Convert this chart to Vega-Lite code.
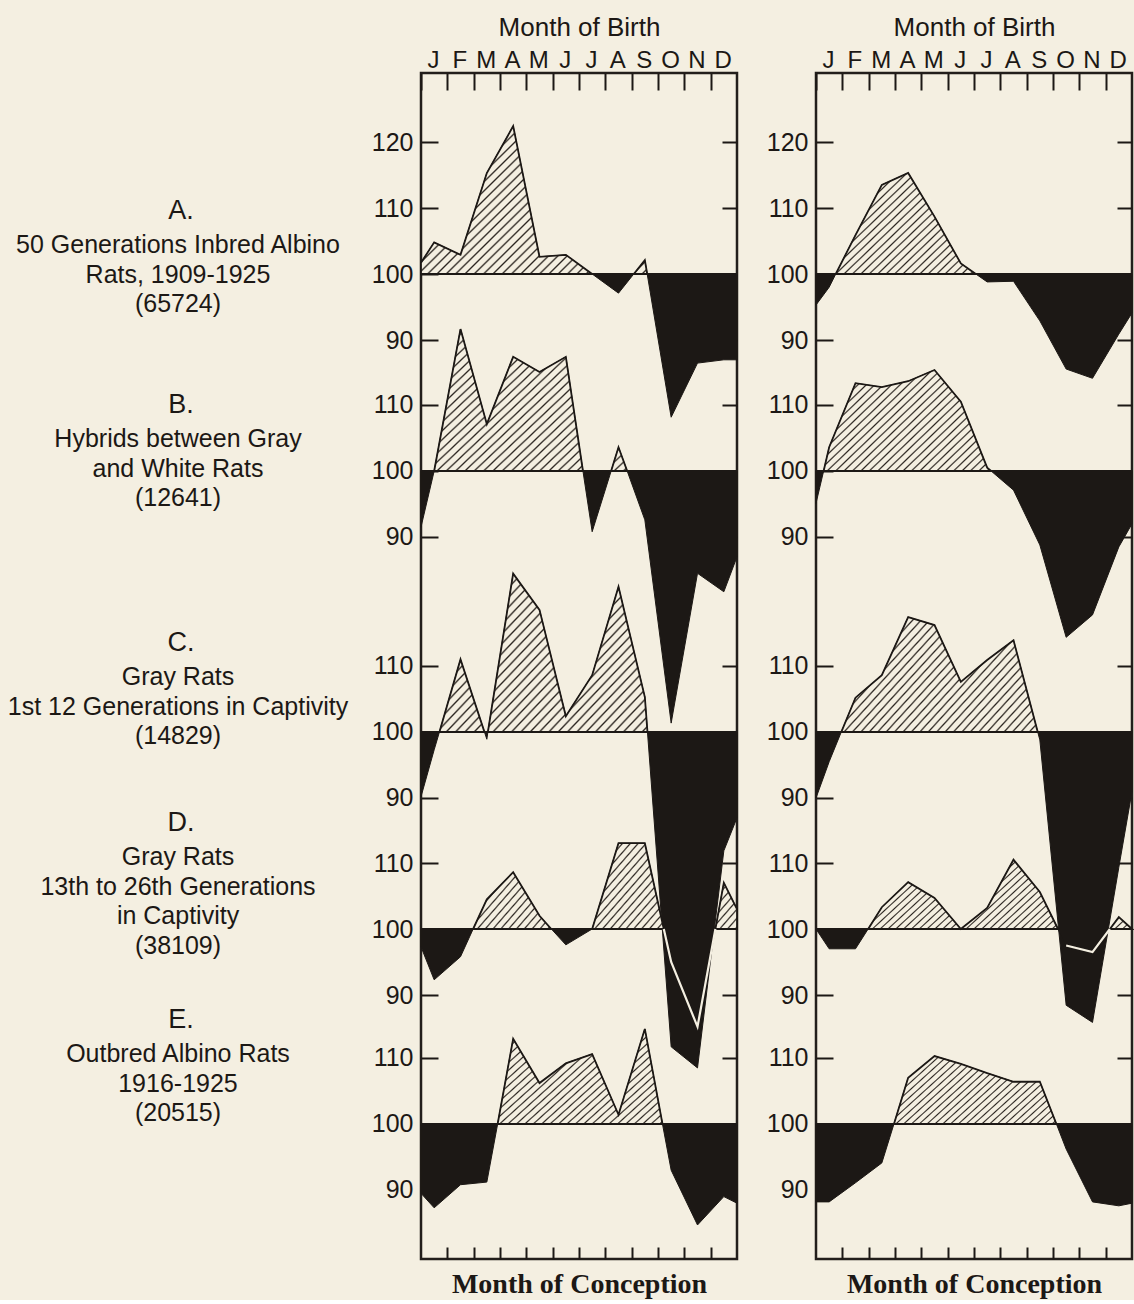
{
"$schema":"https://vega.github.io/schema/vega-lite/v6.json",
"background":"#f4efe1",
"padding":{"left":0,"top":12,"right":0,"bottom":0},
"bounds":"flush",
"spacing":79,
"config":{
 "view":{"stroke":"#221e1b","strokeWidth":2.5},
 "axis":{"labelFont":"Liberation Sans","titleFont":"Liberation Sans","labelColor":"#1c1815","tickColor":"#1c1815","titleColor":"#1c1815","domain":false,"grid":false,"tickWidth":2},
 "style":{
  "hatchS":{"color":{"gradient":"linear","x1":0,"y1":0,"x2":1.171,"y2":0.278,"stops":[{"offset":0.012,"color":"#f4efe1"},{"offset":0.016,"color":"#2a241f"},{"offset":0.02,"color":"#f4efe1"},{"offset":0.032,"color":"#f4efe1"},{"offset":0.036,"color":"#2a241f"},{"offset":0.04,"color":"#f4efe1"},{"offset":0.052,"color":"#f4efe1"},{"offset":0.056,"color":"#2a241f"},{"offset":0.06,"color":"#f4efe1"},{"offset":0.072,"color":"#f4efe1"},{"offset":0.076,"color":"#2a241f"},{"offset":0.08,"color":"#f4efe1"},{"offset":0.092,"color":"#f4efe1"},{"offset":0.096,"color":"#2a241f"},{"offset":0.1,"color":"#f4efe1"},{"offset":0.112,"color":"#f4efe1"},{"offset":0.116,"color":"#2a241f"},{"offset":0.12,"color":"#f4efe1"},{"offset":0.132,"color":"#f4efe1"},{"offset":0.136,"color":"#2a241f"},{"offset":0.14,"color":"#f4efe1"},{"offset":0.152,"color":"#f4efe1"},{"offset":0.156,"color":"#2a241f"},{"offset":0.16,"color":"#f4efe1"},{"offset":0.172,"color":"#f4efe1"},{"offset":0.176,"color":"#2a241f"},{"offset":0.18,"color":"#f4efe1"},{"offset":0.192,"color":"#f4efe1"},{"offset":0.196,"color":"#2a241f"},{"offset":0.2,"color":"#f4efe1"},{"offset":0.212,"color":"#f4efe1"},{"offset":0.216,"color":"#2a241f"},{"offset":0.22,"color":"#f4efe1"},{"offset":0.232,"color":"#f4efe1"},{"offset":0.236,"color":"#2a241f"},{"offset":0.24,"color":"#f4efe1"},{"offset":0.252,"color":"#f4efe1"},{"offset":0.256,"color":"#2a241f"},{"offset":0.26,"color":"#f4efe1"},{"offset":0.272,"color":"#f4efe1"},{"offset":0.276,"color":"#2a241f"},{"offset":0.28,"color":"#f4efe1"},{"offset":0.292,"color":"#f4efe1"},{"offset":0.296,"color":"#2a241f"},{"offset":0.3,"color":"#f4efe1"},{"offset":0.312,"color":"#f4efe1"},{"offset":0.316,"color":"#2a241f"},{"offset":0.32,"color":"#f4efe1"},{"offset":0.332,"color":"#f4efe1"},{"offset":0.336,"color":"#2a241f"},{"offset":0.34,"color":"#f4efe1"},{"offset":0.352,"color":"#f4efe1"},{"offset":0.356,"color":"#2a241f"},{"offset":0.36,"color":"#f4efe1"},{"offset":0.372,"color":"#f4efe1"},{"offset":0.376,"color":"#2a241f"},{"offset":0.38,"color":"#f4efe1"},{"offset":0.392,"color":"#f4efe1"},{"offset":0.396,"color":"#2a241f"},{"offset":0.4,"color":"#f4efe1"},{"offset":0.412,"color":"#f4efe1"},{"offset":0.416,"color":"#2a241f"},{"offset":0.42,"color":"#f4efe1"},{"offset":0.432,"color":"#f4efe1"},{"offset":0.436,"color":"#2a241f"},{"offset":0.44,"color":"#f4efe1"},{"offset":0.452,"color":"#f4efe1"},{"offset":0.456,"color":"#2a241f"},{"offset":0.46,"color":"#f4efe1"},{"offset":0.472,"color":"#f4efe1"},{"offset":0.476,"color":"#2a241f"},{"offset":0.48,"color":"#f4efe1"},{"offset":0.492,"color":"#f4efe1"},{"offset":0.496,"color":"#2a241f"},{"offset":0.5,"color":"#f4efe1"},{"offset":0.512,"color":"#f4efe1"},{"offset":0.516,"color":"#2a241f"},{"offset":0.52,"color":"#f4efe1"},{"offset":0.532,"color":"#f4efe1"},{"offset":0.536,"color":"#2a241f"},{"offset":0.54,"color":"#f4efe1"},{"offset":0.552,"color":"#f4efe1"},{"offset":0.556,"color":"#2a241f"},{"offset":0.56,"color":"#f4efe1"},{"offset":0.572,"color":"#f4efe1"},{"offset":0.576,"color":"#2a241f"},{"offset":0.58,"color":"#f4efe1"},{"offset":0.592,"color":"#f4efe1"},{"offset":0.596,"color":"#2a241f"},{"offset":0.6,"color":"#f4efe1"},{"offset":0.612,"color":"#f4efe1"},{"offset":0.616,"color":"#2a241f"},{"offset":0.62,"color":"#f4efe1"},{"offset":0.632,"color":"#f4efe1"},{"offset":0.636,"color":"#2a241f"},{"offset":0.64,"color":"#f4efe1"},{"offset":0.652,"color":"#f4efe1"},{"offset":0.656,"color":"#2a241f"},{"offset":0.66,"color":"#f4efe1"},{"offset":0.672,"color":"#f4efe1"},{"offset":0.676,"color":"#2a241f"},{"offset":0.68,"color":"#f4efe1"},{"offset":0.692,"color":"#f4efe1"},{"offset":0.696,"color":"#2a241f"},{"offset":0.7,"color":"#f4efe1"},{"offset":0.712,"color":"#f4efe1"},{"offset":0.716,"color":"#2a241f"},{"offset":0.72,"color":"#f4efe1"},{"offset":0.732,"color":"#f4efe1"},{"offset":0.736,"color":"#2a241f"},{"offset":0.74,"color":"#f4efe1"},{"offset":0.752,"color":"#f4efe1"},{"offset":0.756,"color":"#2a241f"},{"offset":0.76,"color":"#f4efe1"},{"offset":0.772,"color":"#f4efe1"},{"offset":0.776,"color":"#2a241f"},{"offset":0.78,"color":"#f4efe1"},{"offset":0.792,"color":"#f4efe1"},{"offset":0.796,"color":"#2a241f"},{"offset":0.8,"color":"#f4efe1"},{"offset":0.812,"color":"#f4efe1"},{"offset":0.816,"color":"#2a241f"},{"offset":0.82,"color":"#f4efe1"},{"offset":0.832,"color":"#f4efe1"},{"offset":0.836,"color":"#2a241f"},{"offset":0.84,"color":"#f4efe1"},{"offset":0.852,"color":"#f4efe1"},{"offset":0.856,"color":"#2a241f"},{"offset":0.86,"color":"#f4efe1"},{"offset":0.872,"color":"#f4efe1"},{"offset":0.876,"color":"#2a241f"},{"offset":0.88,"color":"#f4efe1"},{"offset":0.892,"color":"#f4efe1"},{"offset":0.896,"color":"#2a241f"},{"offset":0.9,"color":"#f4efe1"},{"offset":0.912,"color":"#f4efe1"},{"offset":0.916,"color":"#2a241f"},{"offset":0.92,"color":"#f4efe1"},{"offset":0.932,"color":"#f4efe1"},{"offset":0.936,"color":"#2a241f"},{"offset":0.94,"color":"#f4efe1"},{"offset":0.952,"color":"#f4efe1"},{"offset":0.956,"color":"#2a241f"},{"offset":0.96,"color":"#f4efe1"},{"offset":0.972,"color":"#f4efe1"},{"offset":0.976,"color":"#2a241f"},{"offset":0.98,"color":"#f4efe1"},{"offset":0.992,"color":"#f4efe1"},{"offset":0.996,"color":"#2a241f"},{"offset":1,"color":"#f4efe1"}]}},
  "hatchM":{"color":{"gradient":"linear","x1":0,"y1":0,"x2":1.2,"y2":0.399,"stops":[{"offset":0.012,"color":"#f4efe1"},{"offset":0.016,"color":"#2a241f"},{"offset":0.02,"color":"#f4efe1"},{"offset":0.032,"color":"#f4efe1"},{"offset":0.036,"color":"#2a241f"},{"offset":0.04,"color":"#f4efe1"},{"offset":0.052,"color":"#f4efe1"},{"offset":0.056,"color":"#2a241f"},{"offset":0.06,"color":"#f4efe1"},{"offset":0.072,"color":"#f4efe1"},{"offset":0.076,"color":"#2a241f"},{"offset":0.08,"color":"#f4efe1"},{"offset":0.092,"color":"#f4efe1"},{"offset":0.096,"color":"#2a241f"},{"offset":0.1,"color":"#f4efe1"},{"offset":0.112,"color":"#f4efe1"},{"offset":0.116,"color":"#2a241f"},{"offset":0.12,"color":"#f4efe1"},{"offset":0.132,"color":"#f4efe1"},{"offset":0.136,"color":"#2a241f"},{"offset":0.14,"color":"#f4efe1"},{"offset":0.152,"color":"#f4efe1"},{"offset":0.156,"color":"#2a241f"},{"offset":0.16,"color":"#f4efe1"},{"offset":0.172,"color":"#f4efe1"},{"offset":0.176,"color":"#2a241f"},{"offset":0.18,"color":"#f4efe1"},{"offset":0.192,"color":"#f4efe1"},{"offset":0.196,"color":"#2a241f"},{"offset":0.2,"color":"#f4efe1"},{"offset":0.212,"color":"#f4efe1"},{"offset":0.216,"color":"#2a241f"},{"offset":0.22,"color":"#f4efe1"},{"offset":0.232,"color":"#f4efe1"},{"offset":0.236,"color":"#2a241f"},{"offset":0.24,"color":"#f4efe1"},{"offset":0.252,"color":"#f4efe1"},{"offset":0.256,"color":"#2a241f"},{"offset":0.26,"color":"#f4efe1"},{"offset":0.272,"color":"#f4efe1"},{"offset":0.276,"color":"#2a241f"},{"offset":0.28,"color":"#f4efe1"},{"offset":0.292,"color":"#f4efe1"},{"offset":0.296,"color":"#2a241f"},{"offset":0.3,"color":"#f4efe1"},{"offset":0.312,"color":"#f4efe1"},{"offset":0.316,"color":"#2a241f"},{"offset":0.32,"color":"#f4efe1"},{"offset":0.332,"color":"#f4efe1"},{"offset":0.336,"color":"#2a241f"},{"offset":0.34,"color":"#f4efe1"},{"offset":0.352,"color":"#f4efe1"},{"offset":0.356,"color":"#2a241f"},{"offset":0.36,"color":"#f4efe1"},{"offset":0.372,"color":"#f4efe1"},{"offset":0.376,"color":"#2a241f"},{"offset":0.38,"color":"#f4efe1"},{"offset":0.392,"color":"#f4efe1"},{"offset":0.396,"color":"#2a241f"},{"offset":0.4,"color":"#f4efe1"},{"offset":0.412,"color":"#f4efe1"},{"offset":0.416,"color":"#2a241f"},{"offset":0.42,"color":"#f4efe1"},{"offset":0.432,"color":"#f4efe1"},{"offset":0.436,"color":"#2a241f"},{"offset":0.44,"color":"#f4efe1"},{"offset":0.452,"color":"#f4efe1"},{"offset":0.456,"color":"#2a241f"},{"offset":0.46,"color":"#f4efe1"},{"offset":0.472,"color":"#f4efe1"},{"offset":0.476,"color":"#2a241f"},{"offset":0.48,"color":"#f4efe1"},{"offset":0.492,"color":"#f4efe1"},{"offset":0.496,"color":"#2a241f"},{"offset":0.5,"color":"#f4efe1"},{"offset":0.512,"color":"#f4efe1"},{"offset":0.516,"color":"#2a241f"},{"offset":0.52,"color":"#f4efe1"},{"offset":0.532,"color":"#f4efe1"},{"offset":0.536,"color":"#2a241f"},{"offset":0.54,"color":"#f4efe1"},{"offset":0.552,"color":"#f4efe1"},{"offset":0.556,"color":"#2a241f"},{"offset":0.56,"color":"#f4efe1"},{"offset":0.572,"color":"#f4efe1"},{"offset":0.576,"color":"#2a241f"},{"offset":0.58,"color":"#f4efe1"},{"offset":0.592,"color":"#f4efe1"},{"offset":0.596,"color":"#2a241f"},{"offset":0.6,"color":"#f4efe1"},{"offset":0.612,"color":"#f4efe1"},{"offset":0.616,"color":"#2a241f"},{"offset":0.62,"color":"#f4efe1"},{"offset":0.632,"color":"#f4efe1"},{"offset":0.636,"color":"#2a241f"},{"offset":0.64,"color":"#f4efe1"},{"offset":0.652,"color":"#f4efe1"},{"offset":0.656,"color":"#2a241f"},{"offset":0.66,"color":"#f4efe1"},{"offset":0.672,"color":"#f4efe1"},{"offset":0.676,"color":"#2a241f"},{"offset":0.68,"color":"#f4efe1"},{"offset":0.692,"color":"#f4efe1"},{"offset":0.696,"color":"#2a241f"},{"offset":0.7,"color":"#f4efe1"},{"offset":0.712,"color":"#f4efe1"},{"offset":0.716,"color":"#2a241f"},{"offset":0.72,"color":"#f4efe1"},{"offset":0.732,"color":"#f4efe1"},{"offset":0.736,"color":"#2a241f"},{"offset":0.74,"color":"#f4efe1"},{"offset":0.752,"color":"#f4efe1"},{"offset":0.756,"color":"#2a241f"},{"offset":0.76,"color":"#f4efe1"},{"offset":0.772,"color":"#f4efe1"},{"offset":0.776,"color":"#2a241f"},{"offset":0.78,"color":"#f4efe1"},{"offset":0.792,"color":"#f4efe1"},{"offset":0.796,"color":"#2a241f"},{"offset":0.8,"color":"#f4efe1"},{"offset":0.812,"color":"#f4efe1"},{"offset":0.816,"color":"#2a241f"},{"offset":0.82,"color":"#f4efe1"},{"offset":0.832,"color":"#f4efe1"},{"offset":0.836,"color":"#2a241f"},{"offset":0.84,"color":"#f4efe1"},{"offset":0.852,"color":"#f4efe1"},{"offset":0.856,"color":"#2a241f"},{"offset":0.86,"color":"#f4efe1"},{"offset":0.872,"color":"#f4efe1"},{"offset":0.876,"color":"#2a241f"},{"offset":0.88,"color":"#f4efe1"},{"offset":0.892,"color":"#f4efe1"},{"offset":0.896,"color":"#2a241f"},{"offset":0.9,"color":"#f4efe1"},{"offset":0.912,"color":"#f4efe1"},{"offset":0.916,"color":"#2a241f"},{"offset":0.92,"color":"#f4efe1"},{"offset":0.932,"color":"#f4efe1"},{"offset":0.936,"color":"#2a241f"},{"offset":0.94,"color":"#f4efe1"},{"offset":0.952,"color":"#f4efe1"},{"offset":0.956,"color":"#2a241f"},{"offset":0.96,"color":"#f4efe1"},{"offset":0.972,"color":"#f4efe1"},{"offset":0.976,"color":"#2a241f"},{"offset":0.98,"color":"#f4efe1"},{"offset":0.992,"color":"#f4efe1"},{"offset":0.996,"color":"#2a241f"},{"offset":1,"color":"#f4efe1"}]}},
  "hatchL":{"color":{"gradient":"linear","x1":0,"y1":0,"x2":1.204,"y2":0.572,"stops":[{"offset":0.012,"color":"#f4efe1"},{"offset":0.016,"color":"#2a241f"},{"offset":0.02,"color":"#f4efe1"},{"offset":0.032,"color":"#f4efe1"},{"offset":0.036,"color":"#2a241f"},{"offset":0.04,"color":"#f4efe1"},{"offset":0.052,"color":"#f4efe1"},{"offset":0.056,"color":"#2a241f"},{"offset":0.06,"color":"#f4efe1"},{"offset":0.072,"color":"#f4efe1"},{"offset":0.076,"color":"#2a241f"},{"offset":0.08,"color":"#f4efe1"},{"offset":0.092,"color":"#f4efe1"},{"offset":0.096,"color":"#2a241f"},{"offset":0.1,"color":"#f4efe1"},{"offset":0.112,"color":"#f4efe1"},{"offset":0.116,"color":"#2a241f"},{"offset":0.12,"color":"#f4efe1"},{"offset":0.132,"color":"#f4efe1"},{"offset":0.136,"color":"#2a241f"},{"offset":0.14,"color":"#f4efe1"},{"offset":0.152,"color":"#f4efe1"},{"offset":0.156,"color":"#2a241f"},{"offset":0.16,"color":"#f4efe1"},{"offset":0.172,"color":"#f4efe1"},{"offset":0.176,"color":"#2a241f"},{"offset":0.18,"color":"#f4efe1"},{"offset":0.192,"color":"#f4efe1"},{"offset":0.196,"color":"#2a241f"},{"offset":0.2,"color":"#f4efe1"},{"offset":0.212,"color":"#f4efe1"},{"offset":0.216,"color":"#2a241f"},{"offset":0.22,"color":"#f4efe1"},{"offset":0.232,"color":"#f4efe1"},{"offset":0.236,"color":"#2a241f"},{"offset":0.24,"color":"#f4efe1"},{"offset":0.252,"color":"#f4efe1"},{"offset":0.256,"color":"#2a241f"},{"offset":0.26,"color":"#f4efe1"},{"offset":0.272,"color":"#f4efe1"},{"offset":0.276,"color":"#2a241f"},{"offset":0.28,"color":"#f4efe1"},{"offset":0.292,"color":"#f4efe1"},{"offset":0.296,"color":"#2a241f"},{"offset":0.3,"color":"#f4efe1"},{"offset":0.312,"color":"#f4efe1"},{"offset":0.316,"color":"#2a241f"},{"offset":0.32,"color":"#f4efe1"},{"offset":0.332,"color":"#f4efe1"},{"offset":0.336,"color":"#2a241f"},{"offset":0.34,"color":"#f4efe1"},{"offset":0.352,"color":"#f4efe1"},{"offset":0.356,"color":"#2a241f"},{"offset":0.36,"color":"#f4efe1"},{"offset":0.372,"color":"#f4efe1"},{"offset":0.376,"color":"#2a241f"},{"offset":0.38,"color":"#f4efe1"},{"offset":0.392,"color":"#f4efe1"},{"offset":0.396,"color":"#2a241f"},{"offset":0.4,"color":"#f4efe1"},{"offset":0.412,"color":"#f4efe1"},{"offset":0.416,"color":"#2a241f"},{"offset":0.42,"color":"#f4efe1"},{"offset":0.432,"color":"#f4efe1"},{"offset":0.436,"color":"#2a241f"},{"offset":0.44,"color":"#f4efe1"},{"offset":0.452,"color":"#f4efe1"},{"offset":0.456,"color":"#2a241f"},{"offset":0.46,"color":"#f4efe1"},{"offset":0.472,"color":"#f4efe1"},{"offset":0.476,"color":"#2a241f"},{"offset":0.48,"color":"#f4efe1"},{"offset":0.492,"color":"#f4efe1"},{"offset":0.496,"color":"#2a241f"},{"offset":0.5,"color":"#f4efe1"},{"offset":0.512,"color":"#f4efe1"},{"offset":0.516,"color":"#2a241f"},{"offset":0.52,"color":"#f4efe1"},{"offset":0.532,"color":"#f4efe1"},{"offset":0.536,"color":"#2a241f"},{"offset":0.54,"color":"#f4efe1"},{"offset":0.552,"color":"#f4efe1"},{"offset":0.556,"color":"#2a241f"},{"offset":0.56,"color":"#f4efe1"},{"offset":0.572,"color":"#f4efe1"},{"offset":0.576,"color":"#2a241f"},{"offset":0.58,"color":"#f4efe1"},{"offset":0.592,"color":"#f4efe1"},{"offset":0.596,"color":"#2a241f"},{"offset":0.6,"color":"#f4efe1"},{"offset":0.612,"color":"#f4efe1"},{"offset":0.616,"color":"#2a241f"},{"offset":0.62,"color":"#f4efe1"},{"offset":0.632,"color":"#f4efe1"},{"offset":0.636,"color":"#2a241f"},{"offset":0.64,"color":"#f4efe1"},{"offset":0.652,"color":"#f4efe1"},{"offset":0.656,"color":"#2a241f"},{"offset":0.66,"color":"#f4efe1"},{"offset":0.672,"color":"#f4efe1"},{"offset":0.676,"color":"#2a241f"},{"offset":0.68,"color":"#f4efe1"},{"offset":0.692,"color":"#f4efe1"},{"offset":0.696,"color":"#2a241f"},{"offset":0.7,"color":"#f4efe1"},{"offset":0.712,"color":"#f4efe1"},{"offset":0.716,"color":"#2a241f"},{"offset":0.72,"color":"#f4efe1"},{"offset":0.732,"color":"#f4efe1"},{"offset":0.736,"color":"#2a241f"},{"offset":0.74,"color":"#f4efe1"},{"offset":0.752,"color":"#f4efe1"},{"offset":0.756,"color":"#2a241f"},{"offset":0.76,"color":"#f4efe1"},{"offset":0.772,"color":"#f4efe1"},{"offset":0.776,"color":"#2a241f"},{"offset":0.78,"color":"#f4efe1"},{"offset":0.792,"color":"#f4efe1"},{"offset":0.796,"color":"#2a241f"},{"offset":0.8,"color":"#f4efe1"},{"offset":0.812,"color":"#f4efe1"},{"offset":0.816,"color":"#2a241f"},{"offset":0.82,"color":"#f4efe1"},{"offset":0.832,"color":"#f4efe1"},{"offset":0.836,"color":"#2a241f"},{"offset":0.84,"color":"#f4efe1"},{"offset":0.852,"color":"#f4efe1"},{"offset":0.856,"color":"#2a241f"},{"offset":0.86,"color":"#f4efe1"},{"offset":0.872,"color":"#f4efe1"},{"offset":0.876,"color":"#2a241f"},{"offset":0.88,"color":"#f4efe1"},{"offset":0.892,"color":"#f4efe1"},{"offset":0.896,"color":"#2a241f"},{"offset":0.9,"color":"#f4efe1"},{"offset":0.912,"color":"#f4efe1"},{"offset":0.916,"color":"#2a241f"},{"offset":0.92,"color":"#f4efe1"},{"offset":0.932,"color":"#f4efe1"},{"offset":0.936,"color":"#2a241f"},{"offset":0.94,"color":"#f4efe1"},{"offset":0.952,"color":"#f4efe1"},{"offset":0.956,"color":"#2a241f"},{"offset":0.96,"color":"#f4efe1"},{"offset":0.972,"color":"#f4efe1"},{"offset":0.976,"color":"#2a241f"},{"offset":0.98,"color":"#f4efe1"},{"offset":0.992,"color":"#f4efe1"},{"offset":0.996,"color":"#2a241f"},{"offset":1,"color":"#f4efe1"}]}}
 }
},
"datasets":{
 "labels":[
  {"n":1,"k":"A.","t":"50 Generations Inbred Albino\nRats, 1909-1925\n(65724)"},
  {"n":2,"k":"B.","t":"Hybrids between Gray\nand White Rats\n(12641)"},
  {"n":3,"k":"C.","t":"Gray Rats\n1st 12 Generations in Captivity\n(14829)"},
  {"n":4,"k":"D.","t":"Gray Rats\n13th to 26th Generations\nin Captivity\n(38109)"},
  {"n":5,"k":"E.","t":"Outbred Albino Rats\n1916-1925\n(20515)"}
 ],
 "left":[
  {"s":"A","m":0.5,"v":101.7},{"s":"A","m":1,"v":104.8},{"s":"A","m":2,"v":102.9},{"s":"A","m":3,"v":115.3},{"s":"A","m":4,"v":122.4},{"s":"A","m":5,"v":102.6},{"s":"A","m":6,"v":102.9},{"s":"A","m":7,"v":100},{"s":"A","m":8,"v":97.1},{"s":"A","m":8.58,"v":100},{"s":"A","m":9,"v":102.1},{"s":"A","m":9.09,"v":100},{"s":"A","m":10,"v":78.3},{"s":"A","m":11,"v":86.5},{"s":"A","m":12,"v":87},{"s":"A","m":12.5,"v":87},
  {"s":"B","m":0.5,"v":91.5},{"s":"B","m":1,"v":100},{"s":"B","m":2,"v":121.5},{"s":"B","m":3,"v":107.1},{"s":"B","m":4,"v":117.3},{"s":"B","m":5,"v":115},{"s":"B","m":6,"v":117.3},{"s":"B","m":6.65,"v":100},{"s":"B","m":7,"v":90.8},{"s":"B","m":7.72,"v":100},{"s":"B","m":8,"v":103.6},{"s":"B","m":8.33,"v":100},{"s":"B","m":9,"v":92.6},{"s":"B","m":10,"v":61.8},{"s":"B","m":11,"v":84.5},{"s":"B","m":12,"v":81.7},{"s":"B","m":12.5,"v":87},
  {"s":"C","m":0.5,"v":90.2},{"s":"C","m":1,"v":97.3},{"s":"C","m":1.2,"v":100},{"s":"C","m":2,"v":111},{"s":"C","m":2.91,"v":100},{"s":"C","m":3,"v":98.9},{"s":"C","m":3.04,"v":100},{"s":"C","m":4,"v":124},{"s":"C","m":5,"v":118.5},{"s":"C","m":6,"v":102.4},{"s":"C","m":7,"v":108.6},{"s":"C","m":8,"v":122},{"s":"C","m":9,"v":105.3},{"s":"C","m":9.1,"v":100},{"s":"C","m":10,"v":52.3},{"s":"C","m":11,"v":49.1},{"s":"C","m":12,"v":82},{"s":"C","m":12.5,"v":87},
  {"s":"D","m":0.5,"v":97.3},{"s":"D","m":1,"v":92.3},{"s":"D","m":2,"v":95.8},{"s":"D","m":2.48,"v":100},{"s":"D","m":3,"v":104.5},{"s":"D","m":4,"v":108.6},{"s":"D","m":5,"v":102},{"s":"D","m":5.45,"v":100},{"s":"D","m":6,"v":97.6},{"s":"D","m":7,"v":100},{"s":"D","m":8,"v":113},{"s":"D","m":9,"v":113},{"s":"D","m":9.72,"v":100},{"s":"D","m":10,"v":95},{"s":"D","m":11,"v":85.2},{"s":"D","m":11.68,"v":100},{"s":"D","m":12,"v":107},{"s":"D","m":12.5,"v":103},
  {"s":"E","m":0.5,"v":89.5},{"s":"E","m":1,"v":87.3},{"s":"E","m":2,"v":90.8},{"s":"E","m":3,"v":91.2},{"s":"E","m":3.41,"v":100},{"s":"E","m":4,"v":112.9},{"s":"E","m":5,"v":106.2},{"s":"E","m":6,"v":109.2},{"s":"E","m":7,"v":110.6},{"s":"E","m":8,"v":101.4},{"s":"E","m":9,"v":114.4},{"s":"E","m":9.67,"v":100},{"s":"E","m":10,"v":93},{"s":"E","m":11,"v":84.7},{"s":"E","m":12,"v":89},{"s":"E","m":12.5,"v":88}
 ],
 "right":[
  {"s":"A","m":0.5,"v":95.3},{"s":"A","m":1,"v":98},{"s":"A","m":1.25,"v":100},{"s":"A","m":2,"v":105.9},{"s":"A","m":3,"v":113.5},{"s":"A","m":4,"v":115.3},{"s":"A","m":5,"v":108.7},{"s":"A","m":6,"v":101.6},{"s":"A","m":6.57,"v":100},{"s":"A","m":7,"v":98.8},{"s":"A","m":8,"v":98.9},{"s":"A","m":9,"v":92.9},{"s":"A","m":10,"v":85.6},{"s":"A","m":11,"v":84.2},{"s":"A","m":12,"v":90.9},{"s":"A","m":12.5,"v":94.1},
  {"s":"B","m":0.5,"v":95.1},{"s":"B","m":0.79,"v":100},{"s":"B","m":1,"v":103.6},{"s":"B","m":2,"v":113.3},{"s":"B","m":3,"v":112.7},{"s":"B","m":4,"v":113.6},{"s":"B","m":5,"v":115.3},{"s":"B","m":6,"v":110.5},{"s":"B","m":7,"v":100.5},{"s":"B","m":7.15,"v":100},{"s":"B","m":8,"v":97.1},{"s":"B","m":9,"v":88.8},{"s":"B","m":10,"v":74.8},{"s":"B","m":11,"v":78.2},{"s":"B","m":12,"v":88.5},{"s":"B","m":12.5,"v":92},
  {"s":"C","m":0.5,"v":90},{"s":"C","m":1,"v":95.5},{"s":"C","m":1.46,"v":100},{"s":"C","m":2,"v":105.2},{"s":"C","m":3,"v":108.6},{"s":"C","m":4,"v":117.4},{"s":"C","m":5,"v":116.2},{"s":"C","m":6,"v":107.6},{"s":"C","m":7,"v":110.9},{"s":"C","m":8,"v":113.9},{"s":"C","m":8.92,"v":100},{"s":"C","m":9,"v":98.8},{"s":"C","m":10,"v":58.6},{"s":"C","m":11,"v":56},{"s":"C","m":12,"v":79.5},{"s":"C","m":12.5,"v":91},
  {"s":"D","m":0.5,"v":100},{"s":"D","m":1,"v":97},{"s":"D","m":2,"v":97},{"s":"D","m":2.48,"v":100},{"s":"D","m":3,"v":103.3},{"s":"D","m":4,"v":107.1},{"s":"D","m":5,"v":104.7},{"s":"D","m":6,"v":100},{"s":"D","m":7,"v":103.2},{"s":"D","m":8,"v":110.5},{"s":"D","m":9,"v":105.6},{"s":"D","m":9.69,"v":100},{"s":"D","m":10,"v":97.5},{"s":"D","m":11,"v":96.5},{"s":"D","m":11.66,"v":100},{"s":"D","m":12,"v":101.8},{"s":"D","m":12.5,"v":100},
  {"s":"E","m":0.5,"v":88.2},{"s":"E","m":1,"v":88.2},{"s":"E","m":2,"v":91.1},{"s":"E","m":3,"v":94.1},{"s":"E","m":3.46,"v":100},{"s":"E","m":4,"v":107},{"s":"E","m":5,"v":110.3},{"s":"E","m":6,"v":109.1},{"s":"E","m":7,"v":107.7},{"s":"E","m":8,"v":106.4},{"s":"E","m":9,"v":106.4},{"s":"E","m":9.63,"v":100},{"s":"E","m":10,"v":96.2},{"s":"E","m":11,"v":88.2},{"s":"E","m":12,"v":87.6},{"s":"E","m":12.5,"v":88}
 ]
},
"hconcat":[
 {
  "width":342,"height":1186,
  "view":{"stroke":null},
  "data":{"name":"labels"},
  "layer":[
   {"mark":{"type":"text","align":"center","baseline":"alphabetic","lineBreak":"\n","lineHeight":29.5,"font":"Liberation Sans","fontSize":25,"color":"#1c1815","dx":7},
    "encoding":{
     "x":{"datum":"c","type":"nominal","scale":{"type":"point","padding":0.5},"axis":null},
     "y":{"field":"n","type":"quantitative","scale":{"domain":[1,2,3,4,5],"range":[180,374,612,792,989],"nice":false,"zero":false},"axis":null},
     "text":{"field":"t","type":"nominal"}}},
   {"mark":{"type":"text","align":"center","baseline":"alphabetic","font":"Liberation Sans","fontSize":27,"color":"#1c1815","dx":10,"dy":-34},
    "encoding":{
     "x":{"datum":"c","type":"nominal","scale":{"type":"point","padding":0.5},"axis":null},
     "y":{"field":"n","type":"quantitative","scale":{"domain":[1,2,3,4,5],"range":[180,374,612,792,989],"nice":false,"zero":false},"axis":null},
     "text":{"field":"k","type":"nominal"}}}
  ]
 },
 {
  "width":316,"height":1186,
  "data":{"name":"left"},
  "resolve":{"scale":{"y":"independent"},"axis":{"x":"independent"}},
  "layer":[
   {"transform":[{"filter":"datum.s==='A'"}],"mark":{"type":"area","color":"#1c1815","stroke":"#1c1815","strokeWidth":1},
    "encoding":{"x":{"field":"m","type":"quantitative","scale":{"domain":[0.5,12.5],"nice":false,"zero":false},
      "axis":{"orient":"top","values":[0.5,1.5,2.5,3.5,4.5,5.5,6.5,7.5,8.5,9.5,10.5,11.5],"labelExpr":"['J','F','M','A','M','J','J','A','S','O','N','D'][round(datum.value-0.5)]","labelOffset":12,"labelFlush":false,"labelOverlap":false,"labelBound":false,"labelAngle":0,"labelAlign":"center","tickSize":-17,"labelPadding":18,"labelFontSize":24,"title":"Month of Birth","titleFontSize":26,"titleFontWeight":"normal","titlePadding":8}},
     "y":{"field":"v","type":"quantitative","scale":{"domain":[-49.242,130.455],"nice":false,"zero":false},"axis":{"orient":"left","values":[90,100,110,120],"tickSize":-17,"labelPadding":25,"labelFontSize":25,"labelOverlap":false,"title":null,"offset":0}},
     "y2":{"datum":100}}},
   {"transform":[{"filter":"datum.s==='A'"}],"mark":{"type":"area","style":"hatchL","stroke":"#1c1815","strokeWidth":1.8},
    "encoding":{"x":{"field":"m","type":"quantitative","scale":{"domain":[0.5,12.5],"nice":false,"zero":false},"axis":null},
     "y":{"field":"v","type":"quantitative","scale":{"domain":[100,130.455],"range":[201,0],"clamp":true,"nice":false,"zero":false},"axis":null},
     "y2":{"datum":100}}},
   {"transform":[{"filter":"datum.s==='A'"}],"mark":{"type":"line","opacity":0},
    "encoding":{"x":{"field":"m","type":"quantitative","scale":{"domain":[0.5,12.5],"nice":false,"zero":false},"axis":null},
     "y":{"field":"v","type":"quantitative","scale":{"domain":[-49.242,130.455],"nice":false,"zero":false},"axis":{"orient":"right","values":[90,110,120],"tickSize":-15,"labels":false,"title":null,"offset":0}}}},

   {"transform":[{"filter":"datum.s==='B'"}],"mark":{"type":"area","color":"#1c1815","stroke":"#1c1815","strokeWidth":1},
    "encoding":{"x":{"field":"m","type":"quantitative","scale":{"domain":[0.5,12.5],"nice":false,"zero":false},"axis":null},
     "y":{"field":"v","type":"quantitative","scale":{"domain":[-19.394,160.303],"nice":false,"zero":false},"axis":{"orient":"left","values":[90,100,110],"tickSize":-17,"labelPadding":25,"labelFontSize":25,"labelOverlap":false,"title":null,"offset":0}},
     "y2":{"datum":100}}},
   {"transform":[{"filter":"datum.s==='B'"}],"mark":{"type":"area","style":"hatchL","stroke":"#1c1815","strokeWidth":1.8},
    "encoding":{"x":{"field":"m","type":"quantitative","scale":{"domain":[0.5,12.5],"nice":false,"zero":false},"axis":null},
     "y":{"field":"v","type":"quantitative","scale":{"domain":[100,160.303],"range":[398,0],"clamp":true,"nice":false,"zero":false},"axis":null},
     "y2":{"datum":100}}},
   {"transform":[{"filter":"datum.s==='B'"}],"mark":{"type":"line","opacity":0},
    "encoding":{"x":{"field":"m","type":"quantitative","scale":{"domain":[0.5,12.5],"nice":false,"zero":false},"axis":null},
     "y":{"field":"v","type":"quantitative","scale":{"domain":[-19.394,160.303],"nice":false,"zero":false},"axis":{"orient":"right","values":[90,110],"tickSize":-15,"labels":false,"title":null,"offset":0}}}},

   {"transform":[{"filter":"datum.s==='C'"}],"mark":{"type":"area","color":"#1c1815","stroke":"#1c1815","strokeWidth":1},
    "encoding":{"x":{"field":"m","type":"quantitative","scale":{"domain":[0.5,12.5],"nice":false,"zero":false},"axis":null},
     "y":{"field":"v","type":"quantitative","scale":{"domain":[20.151,199.848],"nice":false,"zero":false},"axis":{"orient":"left","values":[90,100,110],"tickSize":-17,"labelPadding":25,"labelFontSize":25,"labelOverlap":false,"title":null,"offset":0}},
     "y2":{"datum":100}}},
   {"transform":[{"filter":"datum.s==='C'"}],"mark":{"type":"area","style":"hatchL","stroke":"#1c1815","strokeWidth":1.8},
    "encoding":{"x":{"field":"m","type":"quantitative","scale":{"domain":[0.5,12.5],"nice":false,"zero":false},"axis":null},
     "y":{"field":"v","type":"quantitative","scale":{"domain":[100,199.848],"range":[659,0],"clamp":true,"nice":false,"zero":false},"axis":null},
     "y2":{"datum":100}}},
   {"transform":[{"filter":"datum.s==='C'"}],"mark":{"type":"line","opacity":0},
    "encoding":{"x":{"field":"m","type":"quantitative","scale":{"domain":[0.5,12.5],"nice":false,"zero":false},"axis":null},
     "y":{"field":"v","type":"quantitative","scale":{"domain":[20.151,199.848],"nice":false,"zero":false},"axis":{"orient":"right","values":[90,110],"tickSize":-15,"labels":false,"title":null,"offset":0}}}},

   {"transform":[{"filter":"datum.s==='D'"}],"mark":{"type":"area","color":"#1c1815","stroke":"#1c1815","strokeWidth":1},
    "encoding":{"x":{"field":"m","type":"quantitative","scale":{"domain":[0.5,12.5],"nice":false,"zero":false},"axis":null},
     "y":{"field":"v","type":"quantitative","scale":{"domain":[50,229.697],"nice":false,"zero":false},"axis":{"orient":"left","values":[90,100,110],"tickSize":-17,"labelPadding":25,"labelFontSize":25,"labelOverlap":false,"title":null,"offset":0}},
     "y2":{"datum":100}}},
   {"transform":[{"filter":"datum.s==='D'"}],"mark":{"type":"area","style":"hatchS","stroke":"#1c1815","strokeWidth":1.8},
    "encoding":{"x":{"field":"m","type":"quantitative","scale":{"domain":[0.5,12.5],"nice":false,"zero":false},"axis":null},
     "y":{"field":"v","type":"quantitative","scale":{"domain":[100,229.697],"range":[856,0],"clamp":true,"nice":false,"zero":false},"axis":null},
     "y2":{"datum":100}}},
   {"transform":[{"filter":"datum.s==='D'"}],"mark":{"type":"line","opacity":0},
    "encoding":{"x":{"field":"m","type":"quantitative","scale":{"domain":[0.5,12.5],"nice":false,"zero":false},"axis":null},
     "y":{"field":"v","type":"quantitative","scale":{"domain":[50,229.697],"nice":false,"zero":false},"axis":{"orient":"right","values":[90,110],"tickSize":-15,"labels":false,"title":null,"offset":0}}}},

   {"transform":[{"filter":"datum.s==='E'"}],"mark":{"type":"area","color":"#1c1815","stroke":"#1c1815","strokeWidth":1},
    "encoding":{"x":{"field":"m","type":"quantitative","scale":{"domain":[0.5,12.5],"nice":false,"zero":false},
      "axis":{"orient":"bottom","values":[1.5,2.5,3.5,4.5,5.5,6.5,7.5,8.5,9.5,10.5,11.5],"labels":false,"tickSize":-12,"title":"Month of Conception","titleFont":"Liberation Serif","titleFontSize":28,"titleFontWeight":"bold","titlePadding":10}},
     "y":{"field":"v","type":"quantitative","scale":{"domain":[79.545,259.242],"nice":false,"zero":false},"axis":{"orient":"left","values":[90,100,110],"tickSize":-17,"labelPadding":25,"labelFontSize":25,"labelOverlap":false,"title":null,"offset":0}},
     "y2":{"datum":100}}},
   {"transform":[{"filter":"datum.s==='E'"}],"mark":{"type":"area","style":"hatchM","stroke":"#1c1815","strokeWidth":1.8},
    "encoding":{"x":{"field":"m","type":"quantitative","scale":{"domain":[0.5,12.5],"nice":false,"zero":false},"axis":null},
     "y":{"field":"v","type":"quantitative","scale":{"domain":[100,259.242],"range":[1051,0],"clamp":true,"nice":false,"zero":false},"axis":null},
     "y2":{"datum":100}}},
   {"transform":[{"filter":"datum.s==='E'"}],"mark":{"type":"line","opacity":0},
    "encoding":{"x":{"field":"m","type":"quantitative","scale":{"domain":[0.5,12.5],"nice":false,"zero":false},"axis":null},
     "y":{"field":"v","type":"quantitative","scale":{"domain":[79.545,259.242],"nice":false,"zero":false},"axis":{"orient":"right","values":[90,110],"tickSize":-15,"labels":false,"title":null,"offset":0}}}},

   {"transform":[{"filter":"datum.s==='D' && datum.m>=9.7 && datum.m<=11.7"}],"mark":{"type":"line","stroke":"#f4efe1","strokeWidth":2.2},
    "encoding":{"x":{"field":"m","type":"quantitative","scale":{"domain":[0.5,12.5],"nice":false,"zero":false},"axis":null},
     "y":{"field":"v","type":"quantitative","scale":{"domain":[50,229.697],"nice":false,"zero":false},"axis":null}}}
  ]
 },
 {
  "width":316,"height":1186,
  "data":{"name":"right"},
  "resolve":{"scale":{"y":"independent"},"axis":{"x":"independent"}},
  "layer":[
   {"transform":[{"filter":"datum.s==='A'"}],"mark":{"type":"area","color":"#1c1815","stroke":"#1c1815","strokeWidth":1},
    "encoding":{"x":{"field":"m","type":"quantitative","scale":{"domain":[0.5,12.5],"nice":false,"zero":false},
      "axis":{"orient":"top","values":[0.5,1.5,2.5,3.5,4.5,5.5,6.5,7.5,8.5,9.5,10.5,11.5],"labelExpr":"['J','F','M','A','M','J','J','A','S','O','N','D'][round(datum.value-0.5)]","labelOffset":12,"labelFlush":false,"labelOverlap":false,"labelBound":false,"labelAngle":0,"labelAlign":"center","tickSize":-17,"labelPadding":18,"labelFontSize":24,"title":"Month of Birth","titleFontSize":26,"titleFontWeight":"normal","titlePadding":8}},
     "y":{"field":"v","type":"quantitative","scale":{"domain":[-49.242,130.455],"nice":false,"zero":false},"axis":{"orient":"left","values":[90,100,110,120],"tickSize":-17,"labelPadding":25,"labelFontSize":25,"labelOverlap":false,"title":null,"offset":0}},
     "y2":{"datum":100}}},
   {"transform":[{"filter":"datum.s==='A'"}],"mark":{"type":"area","style":"hatchM","stroke":"#1c1815","strokeWidth":1.8},
    "encoding":{"x":{"field":"m","type":"quantitative","scale":{"domain":[0.5,12.5],"nice":false,"zero":false},"axis":null},
     "y":{"field":"v","type":"quantitative","scale":{"domain":[100,130.455],"range":[201,0],"clamp":true,"nice":false,"zero":false},"axis":null},
     "y2":{"datum":100}}},
   {"transform":[{"filter":"datum.s==='A'"}],"mark":{"type":"line","opacity":0},
    "encoding":{"x":{"field":"m","type":"quantitative","scale":{"domain":[0.5,12.5],"nice":false,"zero":false},"axis":null},
     "y":{"field":"v","type":"quantitative","scale":{"domain":[-49.242,130.455],"nice":false,"zero":false},"axis":{"orient":"right","values":[90,110,120],"tickSize":-15,"labels":false,"title":null,"offset":0}}}},

   {"transform":[{"filter":"datum.s==='B'"}],"mark":{"type":"area","color":"#1c1815","stroke":"#1c1815","strokeWidth":1},
    "encoding":{"x":{"field":"m","type":"quantitative","scale":{"domain":[0.5,12.5],"nice":false,"zero":false},"axis":null},
     "y":{"field":"v","type":"quantitative","scale":{"domain":[-19.394,160.303],"nice":false,"zero":false},"axis":{"orient":"left","values":[90,100,110],"tickSize":-17,"labelPadding":25,"labelFontSize":25,"labelOverlap":false,"title":null,"offset":0}},
     "y2":{"datum":100}}},
   {"transform":[{"filter":"datum.s==='B'"}],"mark":{"type":"area","style":"hatchM","stroke":"#1c1815","strokeWidth":1.8},
    "encoding":{"x":{"field":"m","type":"quantitative","scale":{"domain":[0.5,12.5],"nice":false,"zero":false},"axis":null},
     "y":{"field":"v","type":"quantitative","scale":{"domain":[100,160.303],"range":[398,0],"clamp":true,"nice":false,"zero":false},"axis":null},
     "y2":{"datum":100}}},
   {"transform":[{"filter":"datum.s==='B'"}],"mark":{"type":"line","opacity":0},
    "encoding":{"x":{"field":"m","type":"quantitative","scale":{"domain":[0.5,12.5],"nice":false,"zero":false},"axis":null},
     "y":{"field":"v","type":"quantitative","scale":{"domain":[-19.394,160.303],"nice":false,"zero":false},"axis":{"orient":"right","values":[90,110],"tickSize":-15,"labels":false,"title":null,"offset":0}}}},

   {"transform":[{"filter":"datum.s==='C'"}],"mark":{"type":"area","color":"#1c1815","stroke":"#1c1815","strokeWidth":1},
    "encoding":{"x":{"field":"m","type":"quantitative","scale":{"domain":[0.5,12.5],"nice":false,"zero":false},"axis":null},
     "y":{"field":"v","type":"quantitative","scale":{"domain":[20.151,199.848],"nice":false,"zero":false},"axis":{"orient":"left","values":[90,100,110],"tickSize":-17,"labelPadding":25,"labelFontSize":25,"labelOverlap":false,"title":null,"offset":0}},
     "y2":{"datum":100}}},
   {"transform":[{"filter":"datum.s==='C'"}],"mark":{"type":"area","style":"hatchM","stroke":"#1c1815","strokeWidth":1.8},
    "encoding":{"x":{"field":"m","type":"quantitative","scale":{"domain":[0.5,12.5],"nice":false,"zero":false},"axis":null},
     "y":{"field":"v","type":"quantitative","scale":{"domain":[100,199.848],"range":[659,0],"clamp":true,"nice":false,"zero":false},"axis":null},
     "y2":{"datum":100}}},
   {"transform":[{"filter":"datum.s==='C'"}],"mark":{"type":"line","opacity":0},
    "encoding":{"x":{"field":"m","type":"quantitative","scale":{"domain":[0.5,12.5],"nice":false,"zero":false},"axis":null},
     "y":{"field":"v","type":"quantitative","scale":{"domain":[20.151,199.848],"nice":false,"zero":false},"axis":{"orient":"right","values":[90,110],"tickSize":-15,"labels":false,"title":null,"offset":0}}}},

   {"transform":[{"filter":"datum.s==='D'"}],"mark":{"type":"area","color":"#1c1815","stroke":"#1c1815","strokeWidth":1},
    "encoding":{"x":{"field":"m","type":"quantitative","scale":{"domain":[0.5,12.5],"nice":false,"zero":false},"axis":null},
     "y":{"field":"v","type":"quantitative","scale":{"domain":[50,229.697],"nice":false,"zero":false},"axis":{"orient":"left","values":[90,100,110],"tickSize":-17,"labelPadding":25,"labelFontSize":25,"labelOverlap":false,"title":null,"offset":0}},
     "y2":{"datum":100}}},
   {"transform":[{"filter":"datum.s==='D'"}],"mark":{"type":"area","style":"hatchS","stroke":"#1c1815","strokeWidth":1.8},
    "encoding":{"x":{"field":"m","type":"quantitative","scale":{"domain":[0.5,12.5],"nice":false,"zero":false},"axis":null},
     "y":{"field":"v","type":"quantitative","scale":{"domain":[100,229.697],"range":[856,0],"clamp":true,"nice":false,"zero":false},"axis":null},
     "y2":{"datum":100}}},
   {"transform":[{"filter":"datum.s==='D'"}],"mark":{"type":"line","opacity":0},
    "encoding":{"x":{"field":"m","type":"quantitative","scale":{"domain":[0.5,12.5],"nice":false,"zero":false},"axis":null},
     "y":{"field":"v","type":"quantitative","scale":{"domain":[50,229.697],"nice":false,"zero":false},"axis":{"orient":"right","values":[90,110],"tickSize":-15,"labels":false,"title":null,"offset":0}}}},

   {"transform":[{"filter":"datum.s==='E'"}],"mark":{"type":"area","color":"#1c1815","stroke":"#1c1815","strokeWidth":1},
    "encoding":{"x":{"field":"m","type":"quantitative","scale":{"domain":[0.5,12.5],"nice":false,"zero":false},
      "axis":{"orient":"bottom","values":[1.5,2.5,3.5,4.5,5.5,6.5,7.5,8.5,9.5,10.5,11.5],"labels":false,"tickSize":-12,"title":"Month of Conception","titleFont":"Liberation Serif","titleFontSize":28,"titleFontWeight":"bold","titlePadding":10}},
     "y":{"field":"v","type":"quantitative","scale":{"domain":[79.545,259.242],"nice":false,"zero":false},"axis":{"orient":"left","values":[90,100,110],"tickSize":-17,"labelPadding":25,"labelFontSize":25,"labelOverlap":false,"title":null,"offset":0}},
     "y2":{"datum":100}}},
   {"transform":[{"filter":"datum.s==='E'"}],"mark":{"type":"area","style":"hatchS","stroke":"#1c1815","strokeWidth":1.8},
    "encoding":{"x":{"field":"m","type":"quantitative","scale":{"domain":[0.5,12.5],"nice":false,"zero":false},"axis":null},
     "y":{"field":"v","type":"quantitative","scale":{"domain":[100,259.242],"range":[1051,0],"clamp":true,"nice":false,"zero":false},"axis":null},
     "y2":{"datum":100}}},
   {"transform":[{"filter":"datum.s==='E'"}],"mark":{"type":"line","opacity":0},
    "encoding":{"x":{"field":"m","type":"quantitative","scale":{"domain":[0.5,12.5],"nice":false,"zero":false},"axis":null},
     "y":{"field":"v","type":"quantitative","scale":{"domain":[79.545,259.242],"nice":false,"zero":false},"axis":{"orient":"right","values":[90,110],"tickSize":-15,"labels":false,"title":null,"offset":0}}}},

   {"transform":[{"filter":"datum.s==='D' && datum.m>=10 && datum.m<=11.7"}],"mark":{"type":"line","stroke":"#f4efe1","strokeWidth":2.2},
    "encoding":{"x":{"field":"m","type":"quantitative","scale":{"domain":[0.5,12.5],"nice":false,"zero":false},"axis":null},
     "y":{"field":"v","type":"quantitative","scale":{"domain":[50,229.697],"nice":false,"zero":false},"axis":null}}}
  ]
 }
]
}
